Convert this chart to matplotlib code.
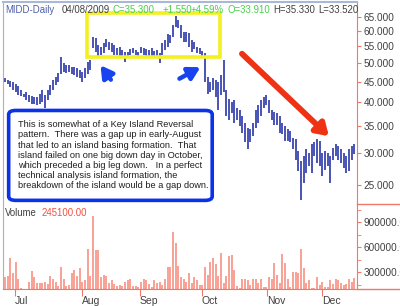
import matplotlib
matplotlib.use("Agg")
import matplotlib.pyplot as plt
from matplotlib.patches import FancyBboxPatch, Rectangle
from matplotlib.ticker import FixedLocator, NullLocator, FormatStrFormatter

# daily highs / lows
highs = [45.8, 45.4, 45.2, 44.9, 44.3, 43.8, 43.0, 42.0, 42.4, 41.6,
         41.4, 41.2, 41.1, 42.0, 42.8, 41.6, 42.8, 44.1, 45.4, 46.2,
         47.3, 51.9, 49.9, 49.5, 49.5, 49.0, 48.8, 48.5, 48.1, 47.6,
         48.5, 50.4, 50.9, 58.1, 57.6, 55.4, 54.9, 56.0, 57.2, 56.5,
         56.0, 55.4, 54.4, 54.7, 53.9, 53.4, 53.4, 54.1, 54.4, 53.9,
         53.4, 54.7, 54.4, 54.1, 53.9, 54.4, 53.7, 53.9, 52.9, 56.0,
         57.0, 59.0, 58.7, 62.1, 65.4, 63.9, 62.1, 59.8, 59.8, 59.5,
         57.0, 56.5, 54.9, 54.4, 53.7, 52.9, 46.2, 44.9, 45.8, 45.4,
         44.9, 46.7, 50.9, 42.8, 40.8, 40.1, 40.5, 38.6, 38.3, 36.9,
         35.5, 34.6, 34.3, 35.5, 38.3, 39.4, 40.5, 41.2, 41.6, 40.5,
         38.3, 37.9, 37.6, 36.9, 35.5, 34.9, 34.3, 33.9, 32.7, 32.4,
         30.3, 28.6, 29.4, 30.6, 30.0, 31.5, 31.8, 32.4, 32.1, 30.0,
         30.3, 30.0, 29.4, 30.9, 31.5, 31.2, 30.6, 30.0, 29.4, 30.6,
         31.2, 31.5]
lows = [44.9, 44.3, 43.6, 42.8, 42.4, 41.6, 41.4, 41.1, 40.5, 40.1,
        39.7, 39.6, 39.4, 39.7, 40.1, 38.6, 40.5, 41.6, 42.8, 44.1,
        44.9, 47.1, 47.6, 47.3, 47.6, 47.1, 46.7, 46.2, 45.8, 44.9,
        45.8, 47.1, 48.1, 54.4, 53.4, 51.9, 52.4, 52.9, 54.9, 53.9,
        53.4, 52.4, 52.4, 51.9, 51.4, 50.4, 51.4, 52.4, 52.9, 52.4,
        51.9, 52.9, 52.4, 51.9, 51.9, 51.4, 51.4, 51.9, 50.1, 52.4,
        53.9, 54.9, 56.0, 58.1, 61.5, 60.9, 57.6, 56.5, 56.5, 54.9,
        53.4, 54.1, 52.9, 52.7, 51.9, 44.9, 42.0, 42.4, 42.8, 41.2,
        38.3, 41.6, 42.4, 36.9, 36.2, 37.6, 35.5, 36.2, 34.9, 33.6,
        31.8, 30.6, 31.8, 33.0, 34.6, 35.5, 36.9, 38.6, 39.4, 37.6,
        36.2, 35.2, 35.2, 33.6, 33.3, 32.1, 32.1, 31.8, 30.6, 28.8,
        27.0, 22.9, 25.2, 26.7, 27.8, 26.7, 29.4, 28.3, 27.8, 26.2,
        27.2, 27.8, 25.2, 28.8, 29.4, 28.8, 28.3, 27.5, 26.7, 27.0,
        28.8, 29.7]
volume = [240000, 252000, 468000, 288000, 420000, 216000, 110000, 100000, 100000, 180000,
          312000, 240000, 168000, 168000, 172000, 180000, 160000, 252000, 216000, 180000,
          130000, 360000, 216000, 130000, 140000, 292000, 324000, 252000, 348000, 180000,
          200000, 576000, 252000, 972000, 564000, 564000, 240000, 264000, 252000, 168000,
          200000, 160000, 130000, 140000, 130000, 180000, 200000, 220000, 130000, 130000,
          115000, 180000, 216000, 200000, 160000, 125000, 200000, 172000, 180000, 140000,
          220000, 364000, 364000, 784000, 644000, 370000, 240000, 220000, 180000, 288000,
          168000, 240000, 200000,
          150000, 144000, 364000, 264000, 424000, 464000, 396000, 252000, 524000, 164000,
          252000, 492000, 504000, 324000, 130000, 110000, 212000, 212000, 200000, 140000,
          220000, 212000, 172000, 212000, 125000, 115000, 240000, 212000, 412000, 264000,
          164000, 516000, 404000, 220000, 125000, 304000, 304000, 292000, 572000, 344000,
          164000, 200000, 110000, 105000, 240000, 140000, 180000, 125000, 115000, 200000,
          160000, 212000, 200000, 172000, 140000, 160000, 212000, 180000, 230000]
month_labels = ["Jul", "Aug", "Sep", "Oct", "Nov", "Dec"]
month_starts = [3.6, 28.8, 50.6, 73.8, 98.2, 118.8]
price_ticks = [25, 30, 35, 40, 45, 50, 55, 60, 65]
vol_ticks = [300000, 600000, 900000]

# header pieces: (text, colour, x pixel)
header = [("MIDD-Daily", "#5060a8", 5), ("04/08/2009", "#404040", 62),
          ("C=35.300", "#48d048", 112), ("+1.550", "#48d048", 162),
          ("+4.59%", "#48d048", 190), ("O=33.910", "#48d048", 227),
          ("H=35.330", "#404040", 273), ("L=33.520", "#404040", 318)]

note = ("This is somewhat of a Key Island Reversal\n"
        "pattern.  There was a gap up in early-August\n"
        "that led to an island basing formation.  That\n"
        "island failed on one big down day in October,\n"
        "which preceded a big leg down.   In a perfect\n"
        "technical analysis island formation, the\n"
        "breakdown of the island would be a gap down.")

W, H = 400, 306
RED = "#f07868"
GRAY = "#404040"
FS = 7.2
plt.rcParams['font.family'] = ['Liberation Sans', 'DejaVu Sans']

fig = plt.figure(figsize=(4, 3.06), dpi=100)

def px(x0, y0, x1, y1):
    return [x0 / W, 1 - y1 / H, (x1 - x0) / W, (y1 - y0) / H]

ax = fig.add_axes(px(3, 2, 357, 204))
axv = fig.add_axes(px(3, 204, 357, 289))

xs = list(range(len(highs)))
ax.vlines(xs, lows, highs, color="#2a36a8", lw=1.2)
ax.set_yscale("log")
ax.set_ylim(22.4, 70.8)
ax.set_xlim(-0.75, 132)
ax.set_xticks([])
ax.yaxis.set_major_locator(FixedLocator(price_ticks))
ax.yaxis.set_minor_locator(NullLocator())
ax.yaxis.set_major_formatter(FormatStrFormatter("%.3f"))
ax.yaxis.tick_right()
ax.tick_params(axis="y", colors=RED, labelcolor=GRAY, labelsize=FS,
               length=3, pad=1.5)
ax.spines["bottom"].set_visible(False)
ax.spines["right"].set_color(RED)
ax.spines["left"].set_color("#a8b0c8")
ax.spines["top"].set_color("#a8b8d8")
ax.spines["top"].set_linewidth(1.5)

axv.vlines(xs, 0, volume, color="#f58878", lw=1.1)
axv.set_xlim(-0.75, 132)
axv.set_ylim(96000, 1116000)
axv.yaxis.set_major_locator(FixedLocator(vol_ticks))
axv.yaxis.set_minor_locator(FixedLocator([150000, 450000, 750000, 1050000]))
axv.yaxis.set_major_formatter(FormatStrFormatter("%.2f"))
axv.yaxis.tick_right()
axv.tick_params(axis="y", which="both", colors=RED, labelcolor=GRAY,
                labelsize=FS, length=3, pad=1.5)
axv.set_xticks(month_starts)
axv.set_xticklabels(month_labels, ha="left")
axv.tick_params(axis="x", colors=RED, labelcolor=GRAY, labelsize=FS + 0.3,
                length=5, pad=0)
axv.spines["top"].set_visible(False)
axv.spines["right"].set_color(RED)
axv.spines["bottom"].set_color(RED)
axv.spines["left"].set_color("#a8b0c8")

# red separator lines running to the right edge
for yy in (204, 289):
    fig.add_artist(plt.Line2D([357 / W, 1], [1 - yy / H] * 2, color=RED, lw=1))

# header
for txt, col, xp in header:
    fig.text(xp / W, 1 - 10 / H, txt, color=col, fontsize=6.9, va="center")
fig.text(5 / W, 1 - 213 / H, "Volume", color=GRAY, fontsize=6.9, va="center")
fig.text(42 / W, 1 - 213 / H, "245100.00", color="#f05040", fontsize=6.9, va="center")

# yellow box around the island
ax.add_patch(Rectangle((30.7, 51.9), 49.9, 66.5 - 51.9, fill=False,
                       ec="#f2f020", lw=2.6, zorder=5))
# arrows
ax.annotate("", xy=(35.2, 50.0), xytext=(40.3, 44.9),
            arrowprops=dict(arrowstyle="-|>,head_length=0.7,head_width=0.4",
                            color="#1844f0", lw=3.2), zorder=6)
ax.annotate("", xy=(74.2, 49.2), xytext=(64.5, 45.4),
            arrowprops=dict(arrowstyle="-|>,head_length=0.7,head_width=0.4",
                            color="#1844f0", lw=3.2), zorder=6)
ax.annotate("", xy=(122.2, 32.6), xytext=(88.1, 53.3),
            arrowprops=dict(arrowstyle="-|>,head_length=0.7,head_width=0.45",
                            color="#f03214", lw=4.2), zorder=6)

# note box
box = FancyBboxPatch((0.016, 0.018), 0.575, 0.445, transform=ax.transAxes,
                     boxstyle="round,pad=0,rounding_size=0.02",
                     fc="white", ec="#0a32e8", lw=2.6, zorder=7, clip_on=False)
ax.add_patch(box)
ax.text(0.043, 0.415, note, transform=ax.transAxes, va="top", ha="left",
        fontsize=6.65, color="#202020", linespacing=1.17, zorder=8)

fig.savefig("out.png", dpi=100)
